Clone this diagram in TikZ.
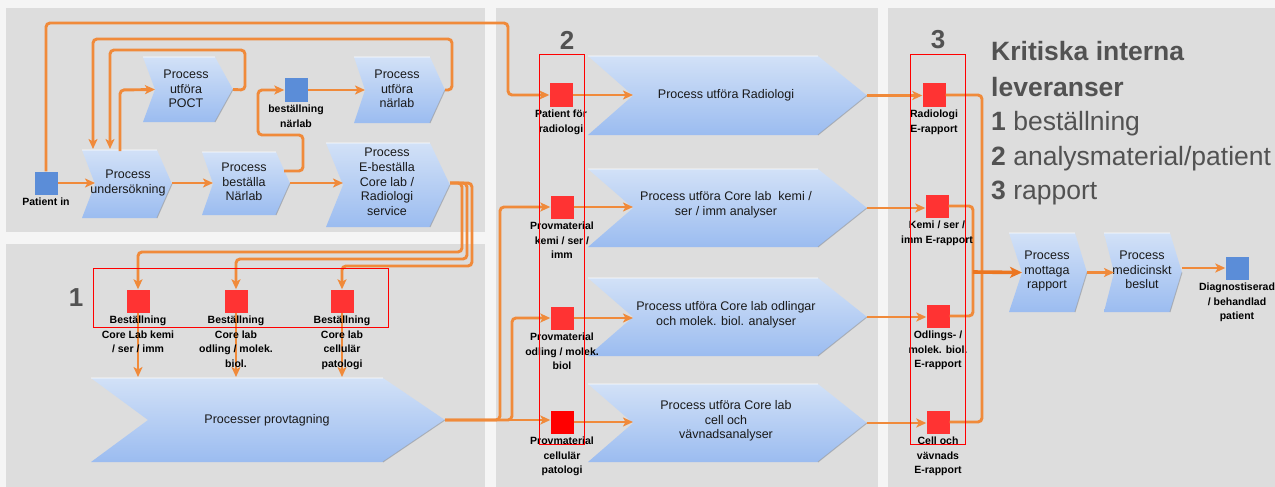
\documentclass[tikz,border=0pt]{standalone}
\usepackage{fontspec}
\setmainfont{Liberation Sans}
\usetikzlibrary{arrows.meta}
\definecolor{bgc}{RGB}{245,245,245}
\definecolor{panelc}{RGB}{221,221,221}
\definecolor{lineor}{RGB}{240,138,58}
\definecolor{lineord}{RGB}{236,118,32}
\definecolor{sqred}{RGB}{255,51,51}
\definecolor{sqblue}{RGB}{91,141,216}
\definecolor{chevtop}{RGB}{210,225,247}
\definecolor{chevbot}{RGB}{155,188,240}
\definecolor{headgray}{RGB}{82,82,82}
\definecolor{txtc}{RGB}{25,25,25}
\newcommand\mkchev[7]{%
  \path[chevfill] (#2,#3) -- ({#4-#7},#3) -- (#4,{(#3+#5)/2}) -- ({#4-#7},#5) -- (#2,#5) -- ({#2+#6},{(#3+#5)/2}) -- cycle;
  \draw[chevedge] ({#4-#7},#5) -- (#4,{(#3+#5)/2});
  \draw[chevtopedge] (#2,#3) -- ({#4-#7},#3);
  \coordinate (#1-n) at ({#2+#6},{(#3+#5)/2});
  \coordinate (#1-p) at (#4,{(#3+#5)/2});
}
\begin{document}
\begin{tikzpicture}[x=1pt,y=-1pt,
  conn/.style={draw=lineor, line width=2.9pt, rounded corners=4pt, -{Stealth[length=10pt,width=9pt,inset=2.5pt]}},
  plainln/.style={draw=lineor, line width=2.9pt, rounded corners=4pt},
  bigconn/.style={draw=lineord, line width=3.6pt, -{Stealth[length=12pt,width=11pt,inset=3pt]}},
  sqr/.style={minimum size=23pt, inner sep=0pt, fill=sqred},
  sqb/.style={minimum size=23pt, inner sep=0pt, fill=sqblue},
  lbl/.style={font=\fontsize{10.5}{14.5}\selectfont\bfseries, align=center, inner sep=0pt, text=black, anchor=north},
  ctext/.style={font=\fontsize{12.5}{14.7}\selectfont, align=center, inner sep=0pt, text=txtc},
  chevfill/.style={top color=chevtop, bottom color=chevbot},
  chevedge/.style={draw=gray!80, line width=1pt, opacity=0.6},
  chevtopedge/.style={draw=white, line width=1.5pt, opacity=0.35},
  redbox/.style={draw=red, line width=1pt},
  bignum/.style={font=\fontsize{26}{30}\selectfont\bfseries, text=headgray, inner sep=0pt},
  head/.style={font=\fontsize{26.5}{32}\selectfont, text=headgray, inner sep=0pt, anchor=base west}
]
\useasboundingbox (0,0) rectangle (1275,487);
\fill[bgc] (0,0) rectangle (1275,487);
\fill[panelc] (6,8) rectangle (485,232);
\fill[panelc] (6,244) rectangle (485,487);
\fill[panelc] (496,8) rectangle (878,487);
\fill[panelc] (888,8) rectangle (1275,487);

% chevrons
\mkchev{und}{82}{150}{172}{218}{13}{15}
\mkchev{poct}{143}{57}{233}{122}{12}{18}
\mkchev{bnl}{202}{152}{290}{215}{11}{14}
\mkchev{unl}{354}{57}{445}{123}{11}{15}
\mkchev{ebe}{326}{143}{450}{227}{17}{20}
\mkchev{prov}{91}{378}{445}{462}{57}{62}
\mkchev{rad}{588}{56}{867}{135}{45}{49}
\mkchev{kemi}{588}{169}{867}{247}{45}{49}
\mkchev{odl}{588}{278}{867}{356}{45}{49}
\mkchev{cell}{588}{384}{867}{462}{45}{49}
\mkchev{mot}{1009}{233}{1087}{312}{13}{12}
\mkchev{med}{1104}{233}{1182}{312}{10}{12}

\node[ctext] (und) at (128,183) {Process\\undersökning};
\node[ctext] (poct) at (186,89) {Process\\utföra\\POCT};
\node[ctext] (bnl) at (244,182) {Process\\beställa\\Närlab};
\node[ctext] (unl) at (397,89) {Process\\utföra\\närlab};
\node[ctext] (ebe) at (387,182) {Process\\E-beställa\\Core lab /\\Radiologi\\service};
\node[ctext] (prov) at (267,420) {Processer provtagning};
\node[ctext] (rad) at (726,95) {Process utföra Radiologi};
\node[ctext] (kemi) at (726,205) {Process utföra Core lab\ \ kemi /\\ser / imm analyser};
\node[ctext] (odl) at (726,315) {Process utföra Core lab odlingar\\och molek. biol. analyser};
\node[ctext] (cell) at (726,421) {Process utföra Core lab\\cell och\\vävnadsanalyser};
\node[ctext] (mot) at (1047,271) {Process\\mottaga\\rapport};
\node[ctext] (med) at (1142,270) {Process\\medicinskt\\beslut};

% squares
\node[sqb] (pin) at (46,183) {};
\node[sqb] (bnq) at (296,90) {};
\node[sqr] (b1) at (138,301) {};
\node[sqr] (b2) at (236,301) {};
\node[sqr] (b3) at (342,301) {};
\node[sqr] (p1) at (561,95) {};
\node[sqr] (p2) at (562,207) {};
\node[sqr] (p3) at (562,318) {};
\node[sqr, fill=red] (p4) at (562,422) {};
\node[sqr] (r1) at (934,95) {};
\node[sqr] (r2) at (937,206) {};
\node[sqr] (r3) at (938,316) {};
\node[sqr] (r4) at (938,422) {};
\node[sqb] (diag) at (1237,268) {};

% helper coordinates on shapes
\coordinate (und-t1) at (93,149);
\coordinate (und-t2) at (110,149);
\coordinate (und-o) at (120,151);
\coordinate (bnl-o) at (284,171);
\coordinate (prov-t1) at (138,377);
\coordinate (prov-t2) at (236,377);
\coordinate (prov-t3) at (342,377);
\coordinate (jn) at (973,272);

% connectors panel A
\draw[conn] (pin.east) -- (pin.east -| und-n);
\draw[conn] (pin.north) -- (46,23) -- (508,23) -- (508,95) -- (p1.west);
\draw[conn] (unl-p) -- (452,90) -- (452,39) -- (93,39) -- (und-t1);
\draw[conn] (poct-p) -- (245,90) -- (245,50) -- (110,50) -- (und-t2);
\draw[conn] (und-o) -- (120,90) -- (poct-n);
\draw[conn] (und-p |- 0,183) -- (bnl-n |- 0,183);
\draw[conn] (bnl-o) -- (303,171) -- (303,135) -- (258,135) -- (258,90) -- (bnq.west);
\draw[conn] (bnq.east) -- (unl-n);
\draw[conn] (bnl-p |- 0,183) -- (ebe-n |- 0,183);
\draw[conn] (ebe-p |- 0,183) -- (462,183) -- (462,252) -- (138,252) -- (b1.north);
\draw[conn] (ebe-p |- 0,183) -- (467,183) -- (467,259) -- (236,259) -- (b2.north);
\draw[conn] (ebe-p |- 0,183) -- (472,183) -- (472,266) -- (342,266) -- (b3.north);
\draw[conn] (b1.south) -- (prov-t1);
\draw[conn] (b2.south) -- (prov-t2);
\draw[conn] (b3.south) -- (prov-t3);

% connectors panel 2
\draw[conn] (prov-p) -- (prov-p -| p4.west);
\draw[conn] (prov-p) -- (500,420) -- (500,207) -- (p2.west);
\draw[conn] (prov-p) -- (512,420) -- (512,318) -- (p3.west);
\draw[conn] (p1.east) -- (p1.east -| rad-n);
\draw[conn] (p2.east) -- (p2.east -| kemi-n);
\draw[conn] (p3.east) -- (p3.east -| odl-n);
\draw[conn] (p4.east) -- (p4.east -| cell-n);
\draw[conn] (rad-p) -- (rad-p -| r1.west);
\draw[conn] (kemi-p) -- (kemi-p -| r2.west);
\draw[conn] (odl-p) -- (odl-p -| r3.west);
\draw[conn] (cell-p) -- (cell-p -| r4.west);

% panel 3
\draw[plainln] (r1.east) -- (982,95) -- (982,272);
\draw[plainln] (r4.east) -- (982,422) -- (982,272);
\draw[plainln] (r2.east) -- (973,206) -- (jn);
\draw[plainln] (r3.east) -- (973,316) -- (jn);
\draw[bigconn] (jn) -- (mot-n);
\draw[conn] (mot-p) -- (med-n);
\draw[conn] (med-p |- diag.west) -- (diag.west);

% labels
\node[lbl] (pinl) at ([yshift=-3pt]pin.south) {Patient in};
\node[lbl] (bnql) at ([yshift=-3pt]bnq.south) {beställning\\närlab};
\node[lbl] (b1l) at ([yshift=-3pt]b1.south) {Beställning\\Core Lab kemi\\/ ser / imm};
\node[lbl] (b2l) at ([yshift=-3pt]b2.south) {Beställning\\Core lab\\odling / molek.\\biol.};
\node[lbl] (b3l) at ([yshift=-3pt]b3.south) {Beställning\\Core lab\\cellulär\\patologi};
\node[lbl] (p1l) at ([yshift=-3pt]p1.south) {Patient för\\radiologi};
\node[lbl] (p2l) at ([yshift=-3pt]p2.south) {Provmaterial\\kemi / ser /\\imm};
\node[lbl] (p3l) at ([yshift=-3pt]p3.south) {Provmaterial\\odling / molek.\\biol};
\node[lbl] (p4l) at ([yshift=-3pt]p4.south) {Provmaterial\\cellulär\\patologi};
\node[lbl] (r1l) at ([yshift=-3pt]r1.south) {Radiologi\\E-rapport};
\node[lbl] (r2l) at ([yshift=-3pt]r2.south) {Kemi / ser /\\imm E-rapport};
\node[lbl] (r3l) at ([yshift=-3pt]r3.south) {Odlings- /\\molek. biol.\\E-rapport};
\node[lbl] (r4l) at ([yshift=-3pt]r4.south) {Cell och\\vävnads\\E-rapport};
\node[lbl] (diagl) at ([yshift=-3pt]diag.south) {Diagnostiserad\\/ behandlad\\patient};

% red boxes
\draw[redbox] (93,268) rectangle (388,327);
\draw[redbox] (539,55) rectangle (584,444);
\draw[redbox] (910,55) rectangle (965,444);

% numbers and heading
\node[bignum] (n1) at (76,298) {1};
\node[bignum] (n2) at (567,40) {2};
\node[bignum] (n3) at (938,40) {3};
\node[head] (h1) at (991,61) {\bfseries Kritiska interna};
\node[head] (h2) at (991,96) {\bfseries leveranser};
\node[head] (h3) at (991,130) {\textbf{1} beställning};
\node[head] (h4) at (991,165) {\textbf{2} analysmaterial/patient};
\node[head] (h5) at (991,199) {\textbf{3} rapport};
\end{tikzpicture}
\end{document}
